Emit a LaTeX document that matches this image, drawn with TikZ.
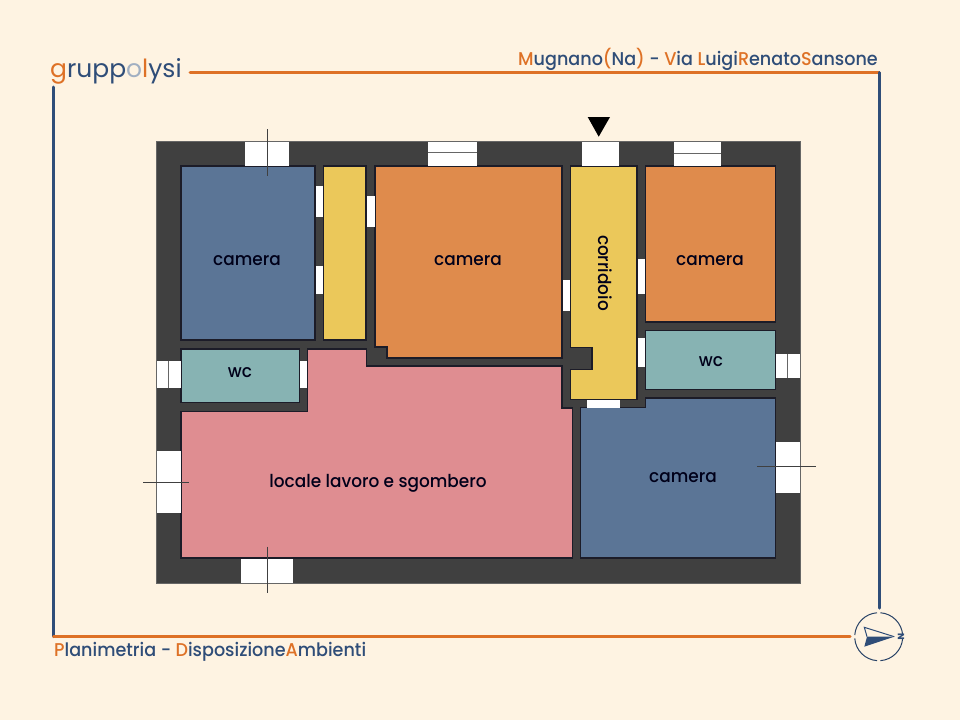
\documentclass[tikz,border=0pt]{standalone}
\usepackage{fontspec}
\setmainfont{Poppins}[Scale=1]
\newfontfamily\labelfont{Poppins}[UprightFont=*-Medium,FakeStretch=0.95]
\newfontfamily\headfont{Poppins}[UprightFont=*-Medium,FakeStretch=0.95]
\newfontfamily\logofont{Poppins}[UprightFont=*-Regular]
\definecolor{bgc}{HTML}{FEF3E2}
\definecolor{wallc}{HTML}{404040}
\definecolor{edgec}{HTML}{1C1C28}
\definecolor{blueroom}{HTML}{5B7596}
\definecolor{yellowroom}{HTML}{EBC85A}
\definecolor{orangeroom}{HTML}{DF8B4C}
\definecolor{tealroom}{HTML}{87B3B3}
\definecolor{pinkroom}{HTML}{DF8D91}
\definecolor{navyc}{HTML}{2F4D78}
\definecolor{orangec}{HTML}{DE7126}
\newcommand{\oo}[1]{{\color{orangec}#1}}
\tikzset{
  roomshape/.style={draw=edgec,line width=1.1pt,line join=miter},
  openshape/.style={fill=white,draw=none},
  crossline/.style={draw=black!75,line width=0.7pt},
  midline/.style={draw=black!60,line width=0.9pt},
  framenavy/.style={draw=navyc,line width=3pt,line cap=round},
  frameorange/.style={draw=orangec,line width=3pt,line cap=round},
  roomlabel/.style={font=\labelfont\fontsize{17.8}{20}\selectfont,text=black!90!blue,inner sep=0pt},
  headlabel/.style={font=\headfont\fontsize{18.5}{22}\selectfont,text=navyc,inner sep=0pt},
}
\begin{document}
\begin{tikzpicture}[x=1pt,y=-1pt]
\useasboundingbox (0,0) rectangle (960,720);
\fill[bgc] (0,0) rectangle (960,720);
% frame
\coordinate (ftl) at (190,72.5); \coordinate (ftr) at (879,72.5);
\coordinate (frb) at (879,608); \coordinate (flt) at (53.7,87);
\coordinate (flb) at (53.7,636.7); \coordinate (fbr) at (850,636.7);
\draw[frameorange] (ftl) -- (ftr);
\draw[framenavy] (ftr) -- (frb);
\draw[framenavy] (flt) -- (flb);
\draw[frameorange] (flb) -- (fbr);
% walls
\fill[wallc,draw=black!60,line width=0.8pt] (156,141) rectangle (800,583);
% rooms
\filldraw[roomshape,fill=blueroom] (181,166) rectangle (315,340);
\filldraw[roomshape,fill=yellowroom] (323.3,166) rectangle (366,340);
\filldraw[roomshape,fill=orangeroom] (375,166) -- (562,166) -- (562,358) -- (387,358) -- (387,347) -- (375,347) -- cycle;
\filldraw[roomshape,fill=yellowroom] (570.3,166) -- (637,166) -- (637,399.5) -- (570.3,399.5) -- (570.3,369.7) -- (592,369.7) -- (592,347.3) -- (570.3,347.3) -- cycle;
\filldraw[roomshape,fill=orangeroom] (645.3,166) rectangle (775.5,322);
\filldraw[roomshape,fill=tealroom] (645.5,330.7) rectangle (775.5,389.7);
\filldraw[roomshape,fill=blueroom] (645.5,398) -- (775.5,398) -- (775.5,558) -- (580.7,558) -- (580.7,407.7) -- (645.5,407.7) -- cycle;
\filldraw[roomshape,fill=tealroom] (181,349) rectangle (299.3,402.7);
\filldraw[roomshape,fill=pinkroom] (181,411.7) -- (307.7,411.7) -- (307.7,349) -- (366.3,349) -- (366.3,366) -- (562,366) -- (562,408) -- (572.3,408) -- (572.3,558) -- (181,558) -- cycle;
% openings: outer walls
\fill[openshape] (245,142) rectangle (289,165.5);
\fill[openshape] (428.3,142) rectangle (477,165.5);
\fill[openshape] (581.7,142) rectangle (618.7,165.5);
\fill[openshape] (673.7,142) rectangle (721,165.5);
\fill[openshape] (776,354) rectangle (799.5,378);
\fill[openshape] (776,442) rectangle (799.5,492.7);
\fill[openshape] (156.5,361) rectangle (180.5,388);
\fill[openshape] (156.5,450.7) rectangle (180.5,512.7);
\fill[openshape] (241,558.5) rectangle (293,582.5);
% openings: inner walls
\fill[openshape] (315.5,186) rectangle (323,216.7);
\fill[openshape] (315.5,266) rectangle (323,294);
\fill[openshape] (366.5,195.7) rectangle (374.5,227);
\fill[openshape] (562.5,280) rectangle (570,311);
\fill[openshape] (637.5,259) rectangle (645,294);
\fill[openshape] (637.5,337.7) rectangle (645,367.3);
\fill[openshape] (587,400) rectangle (620,407.7);
\fill[openshape] (299.8,361) rectangle (307.2,387.7);
% window mid lines
\draw[midline] (428.3,152.8) -- (477,152.8);
\draw[midline] (673.7,153) -- (721,153);
\draw[midline] (787,354) -- (787,378);
\draw[midline] (168,361) -- (168,388);
% cross lines
\draw[crossline] (267,129) -- (267,176);
\draw[crossline] (757,466) -- (815.7,466);
\draw[crossline] (143,482) -- (189,482);
\draw[crossline] (267,546.7) -- (267,593);
% entrance marker
\fill[black] (587.7,117) -- (610,117) -- (598.7,136.7) -- cycle;
% room labels
\node[roomlabel] (c1) at (247,261) {camera};
\node[roomlabel] (c2) at (468,261) {camera};
\node[roomlabel] (c3) at (710,261) {camera};
\node[roomlabel] (c4) at (683,478) {camera};
\node[roomlabel,rotate=-90] (cor) at (605.5,273) {corridoio};
\node[roomlabel] (w1) at (240,373) {wc};
\node[roomlabel] (w2) at (711,362) {wc};
\node[roomlabel] (loc) at (378,483) {locale lavoro e sgombero};
% header texts
\node[headlabel,anchor=base east] (addr) at (878,65) {\oo{M}ugnano\oo{(}Na\oo{)} - \oo{V}ia \oo{L}uigi\oo{R}enato\oo{S}ansone};
\node[headlabel,anchor=base west] (plan) at (54,656) {\oo{P}lanimetria - \oo{D}isposizione\oo{A}mbienti};
\node[anchor=base west,inner sep=0pt,text=navyc,font=\logofont\fontsize{25}{27}\selectfont] (logo) at (50,77) {\oo{g}rupp{\color{navyc!45}o}\oo{l}ysi};
% compass
\coordinate (cc) at (878.7,636.7);
\draw[navyc!85!black,line width=1pt] (cc) ++(4:24) arc (4:86:24);
\draw[navyc!85!black,line width=1pt] (cc) ++(94:24) arc (94:176:24);
\draw[navyc!85!black,line width=1pt] (cc) ++(184:24) arc (184:266:24);
\draw[navyc!85!black,line width=1pt] (cc) ++(274:24) arc (274:356:24);
\draw[navyc,line width=1pt,line join=miter] (894.3,636.7) -- (864.3,627.3) -- (867,636.7);
\fill[navyc] (894.3,636.7) -- (867,636.7) -- (864.3,646.7) -- cycle;
\node[rotate=-90,inner sep=0pt,text=navyc,font=\headfont\bfseries\fontsize{9}{9}\selectfont] (north) at (901,637) {N};
\end{tikzpicture}
\end{document}
